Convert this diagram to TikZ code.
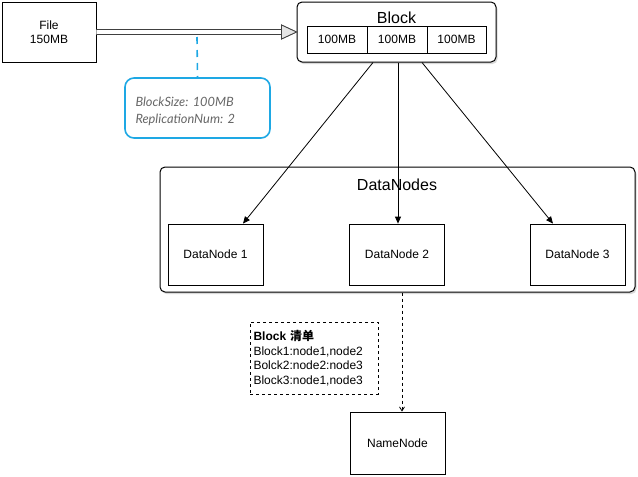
\documentclass[tikz,border=0pt]{standalone}
\usepackage{fontspec}
\setmainfont{Liberation Sans}
\newfontfamily\cjk{Noto Sans CJK SC}
\newfontfamily\notefont{Lato}
\usepackage{tikz}
\usetikzlibrary{shapes,arrows.meta,shadows}
\definecolor{noteblue}{RGB}{30,168,228}
\tikzset{
  every picture/.style={line width=0.8pt},
  box/.style={draw,minimum width=95pt,minimum height=61pt,font=\fontsize{12}{14}\selectfont,align=center},
  group/.style={draw=black,line width=1pt,rounded corners=5pt,fill=white,drop shadow={shadow xshift=1.5pt,shadow yshift=-2pt,opacity=0.3}},
  cell/.style={draw,minimum width=60pt,minimum height=27pt,font=\fontsize{12}{14}\selectfont,inner sep=0pt}
}
\begin{document}
\frenchspacing
\begin{tikzpicture}[x=1pt,y=-1pt]
\useasboundingbox (0,0) rectangle (638,477);
\node[box,minimum width=94pt,minimum height=60pt] (file) at (49,32) {File\\150MB};
\node[group,minimum width=199pt,minimum height=60pt] (block) at (396.5,32) {};
\node[font=\fontsize{16}{18}\selectfont] (blocktitle) at (396.5,18) {Block};
\node[cell] (c1) at (337,39.5) {100MB};
\node[cell] (c2) at (397,39.5) {100MB};
\node[cell,minimum width=59pt] (c3) at (456.5,39.5) {100MB};
% file -> block
\coordinate (tip) at ([xshift=-15pt]block.west);
\draw[gray!50!black,fill=white] ([yshift=-2.5pt]file.east) -- ([yshift=-2.5pt]tip) -- ([yshift=-7pt]tip) -- (block.west)
  -- ([yshift=7pt]tip) -- ([yshift=2.5pt]tip) -- ([yshift=2.5pt]file.east);
\draw[gray!50!black,fill=gray!20] ([yshift=-7pt]tip) -- (block.west) -- ([yshift=7pt]tip) -- cycle;
\node[draw=noteblue,line width=1.6pt,rounded corners=9pt,minimum width=145pt,minimum height=60pt,
  text=gray!80!black,align=left,font=\notefont\fontsize{12.8}{17}\selectfont\itshape,text width=124pt] (note) at (197.5,108) {\rule{0pt}{17pt}BlockSize: 100MB\\ReplicationNum: 2};
\coordinate (mid) at (197,37);
\draw[noteblue,line width=1.6pt,dash pattern=on 7pt off 6pt] (mid) -- (note.north);
\node[group,minimum width=475pt,minimum height=125pt] (dnodes) at (397.5,229.5) {};
\node[font=\fontsize{16}{18}\selectfont] (dtitle) at (397,185) {DataNodes};
\node[box] (dn1) at (215.5,254.5) {DataNode 1};
\node[box] (dn2) at (397,254.5) {DataNode 2};
\node[box] (dn3) at (577.5,254.5) {DataNode 3};
\draw[-{Triangle[length=7pt,width=6pt]}] ([xshift=-23.5pt]block.south) -- ([xshift=27.5pt]dn1.north);
\draw[-{Triangle[length=7pt,width=6pt]}] ([xshift=1.5pt]block.south) -- ([xshift=1pt]dn2.north);
\draw[-{Triangle[length=7pt,width=6pt]}] ([xshift=25.5pt]block.south) -- ([xshift=-24.5pt]dn3.north);
\node[draw,dashed,minimum width=128pt,minimum height=72pt,align=left,text width=121pt,inner sep=3pt,
  font=\fontsize{12}{14.5}\selectfont] (list) at (314,358) {\textbf{Block {\cjk 清单}}\\Block1:node1,node2\\Bolck2:node2:node3\\Block3:node1,node3};
\node[box,minimum height=62pt] (name) at (397.5,443) {NameNode};
\draw[dashed,-{Straight Barb[length=4pt,width=5pt]}] ([xshift=4.5pt]dnodes.south) -- ([xshift=4.5pt]name.north);
\end{tikzpicture}
\end{document}
